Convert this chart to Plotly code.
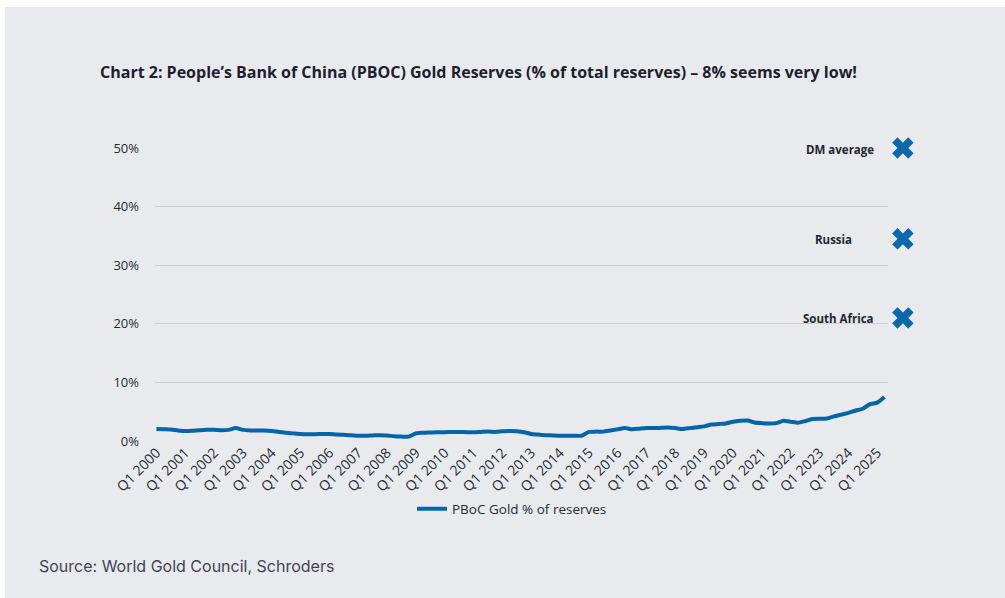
import plotly.graph_objects as go

# ---- data ----
years = list(range(2000, 2026))
tick_labels = [f"Q1 {y}" for y in years]

# PBoC gold as % of total reserves, quarterly Q1 2000 .. Q2 2025
pboc_gold_pct = [
    2.05, 2.0, 1.95, 1.8, 1.7, 1.75, 1.85, 1.9, 1.9, 1.85,
    1.9, 2.2, 1.9, 1.8, 1.8, 1.8, 1.7, 1.55, 1.4, 1.3,
    1.2, 1.15, 1.15, 1.2, 1.2, 1.1, 1.05, 1.0, 0.9, 0.9,
    0.95, 1.0, 0.95, 0.8, 0.75, 0.75, 1.3, 1.4, 1.45, 1.5,
    1.5, 1.55, 1.55, 1.5, 1.5, 1.55, 1.6, 1.55, 1.65, 1.7,
    1.65, 1.5, 1.2, 1.1, 1.0, 0.95, 0.9, 0.9, 0.9, 0.9,
    1.55, 1.6, 1.6, 1.8, 2.0, 2.2, 2.0, 2.1, 2.2, 2.2,
    2.25, 2.3, 2.2, 2.05, 2.2, 2.35, 2.5, 2.8, 2.9, 3.0,
    3.3, 3.45, 3.5, 3.15, 3.05, 3.0, 3.05, 3.45, 3.3, 3.1,
    3.4, 3.75, 3.8, 3.85, 4.2, 4.5, 4.8, 5.2, 5.5, 6.3,
    6.55, 7.5,
]

comparators = ["DM average", "Russia", "South Africa"]
comparator_pct = [50, 34.5, 21]
comparator_label_shift = [-27, -49, -27]

# ---- style ----
BG = "#e9eaee"
BLUE = "#0065a9"
TEXT = "#262a33"

W, H = 1005, 598
L, R, T, B = 155, 60, 148, 157
PW, PH = W - L - R, H - T - B
main_right = 888
d1 = (main_right - L) / PW
d2 = d1 + 0.002

quarter_idx = list(range(len(pboc_gold_pct)))
marker_pos = 0.24

fig = go.Figure()
fig.add_trace(go.Scatter(
    x=quarter_idx, y=pboc_gold_pct, mode="lines",
    name="PBoC Gold % of reserves",
    line=dict(color=BLUE, width=4, shape="spline", smoothing=0.6),
    xaxis="x", yaxis="y",
))
fig.add_trace(go.Scatter(
    x=[marker_pos] * len(comparators), y=comparator_pct, mode="markers",
    marker=dict(symbol="x", size=19, color="#0a68ad", line=dict(width=0)),
    showlegend=False, cliponaxis=False, hoverinfo="skip",
    xaxis="x2", yaxis="y2",
))

for name, val, sh in zip(comparators, comparator_pct, comparator_label_shift):
    fig.add_annotation(x=marker_pos, y=val, xref="x2", yref="y2", text=f"<b>{name}</b>",
                       showarrow=False, xanchor="right", yanchor="middle", xshift=sh, yshift=-1,
                       font=dict(family="Open Sans", size=11.5, color="#222630"))

# panel background
fig.add_shape(type="rect", xref="paper", yref="paper",
              x0=(5 - L) / PW, x1=(W - L) / PW, y0=(T + PH - H) / PH, y1=(T + PH - 7) / PH,
              fillcolor=BG, line=dict(width=0), layer="below")

fig.update_layout(
    width=W, height=H,
    paper_bgcolor="white", plot_bgcolor="rgba(0,0,0,0)",
    margin=dict(l=L, r=R, t=T, b=B),
    title=dict(text="<b>Chart 2: People’s Bank of China (PBOC) Gold Reserves (% of total reserves) – 8% seems very low!</b>",
               x=100 / W, xanchor="left", y=1 - 72 / H, yanchor="middle",
               font=dict(family="Open Sans", size=16, color="#1b1f2e")),
    xaxis=dict(domain=[0, d1], range=[-0.2, 101.5], tickmode="array",
               tickvals=[4 * i for i in range(len(tick_labels))], ticktext=tick_labels,
               tickangle=-45, showgrid=False, zeroline=False, showline=False,
               tickfont=dict(family="Open Sans", size=14, color=TEXT), ticks="",
               automargin=False),
    yaxis=dict(range=[0, 50], tickvals=[0, 10, 20, 30, 40, 50],
               ticktext=["0%", "10%", "20%", "30%", "40%", "50%"],
               showgrid=True, gridcolor="#cfd0d5", gridwidth=1, zeroline=False,
               tickfont=dict(family="Open Sans", size=13, color=TEXT), ticks="",
               ticklabelstandoff=15, automargin=False),
    xaxis2=dict(domain=[d2, 1], range=[0, 1], visible=False, anchor="y2"),
    yaxis2=dict(range=[0, 50], visible=False, anchor="x2", matches="y"),
    legend=dict(orientation="h", x=512 / W, xref="container", xanchor="center",
                yref="container", y=1 - 509 / H, yanchor="middle",
                font=dict(family="Open Sans", size=13.5, color=TEXT),
                bgcolor="rgba(0,0,0,0)"),
    showlegend=True,
)

fig.add_annotation(text="Source: World Gold Council, Schroders", xref="paper", yref="paper",
                   x=(37 - L) / PW, y=(T + PH - 566) / PH, xanchor="left", yanchor="middle",
                   showarrow=False, font=dict(family="Inter", size=16, color="#3f4454"))

fig.write_html("out.html")
